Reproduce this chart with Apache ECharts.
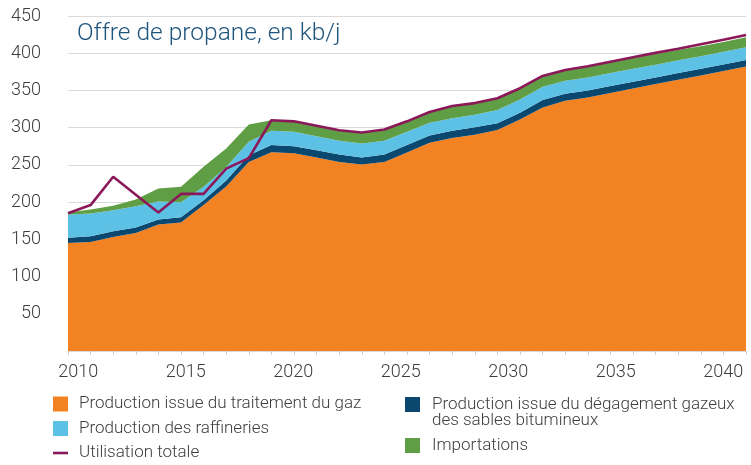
<!DOCTYPE html>
<html><head><meta charset="utf-8">
<script src="https://cdn.jsdelivr.net/npm/echarts@6/dist/echarts.min.js"></script>
<style>html,body{margin:0;padding:0;background:#fff}#c{width:751px;height:465px}</style>
</head><body><div id="c"></div>
<script>
const years = ['2010','2011','2012','2013','2014','2015','2016','2017','2018','2019','2020','2021','2022','2023','2024','2025','2026','2027','2028','2029','2030','2031','2032','2033','2034','2035','2036','2037','2038','2039','2040'];
const tickLabels = [2010, 2015, 2020, 2025, 2030, 2035, 2040];
const yTicks = [0, 50, 100, 150, 200, 250, 300, 350, 400, 450];

const gasProcessing = [145,146.5,153,158.6,170,172.5,196,221,254,267,265.5,260,254,250.6,254,266.7,279.6,286,290.5,296.7,311,327,336,340.5,346.5,352.5,358.5,364.5,370,376,382];
const oilSandsOffgas = [7,7.5,8,7.4,6.6,7,6.6,8,9,9.6,9.5,9.8,10,9.4,10,9.9,10,9.8,10,9.3,9,10,9.5,9.5,9.5,9.3,9,9,9,9,9];
const refineries = [31.4,30.7,28,28.5,24.2,20.3,17.9,18,18,19.2,19.5,18.8,18.4,18.7,18.4,18,17,17,16.7,17.8,18,18,17.5,17.5,17.3,17.2,17,17,17,17,17];
const imports = [2.5,5.3,6,9,17.5,21,27,25,23.4,14.2,14.5,13.5,14,14.5,14.6,14,14.5,15.5,15.5,15.5,15.5,14.5,14,14.5,14.5,14.5,14.5,14,13.5,13,13.5];
const totalUse = [185,196,234,210,186,211,211,245,259,310,308.5,302.5,296.5,293.5,297.5,308.5,321,329,333,339.5,353,369.5,377.5,382.5,388.5,394.5,400.5,406,412,418,424.5];

const nGas = 'Production issue du traitement du gaz';
const nRef = 'Production des raffineries';
const nTot = 'Utilisation totale';
const nSands = 'Production issue du dégagement gazeux des sables bitumineux';
const nImp = 'Importations';

const FONT = 'Roboto, "Liberation Sans", sans-serif';
const TXT = '#3d3d3d';

function area(name, data, color) {
  return {
    name, type: 'line', stack: 'supply', data, symbol: 'none',
    lineStyle: { width: 0, color }, itemStyle: { color },
    areaStyle: { color, opacity: 1 }, z: 2
  };
}

const chart = echarts.init(document.getElementById('c'), null, { renderer: 'canvas' });
chart.setOption({
  animation: false,
  backgroundColor: '#ffffff',
  title: {
    text: 'Offre de propane, en kb/j', left: 77, top: 21, padding: 0,
    textStyle: { fontFamily: FONT, fontSize: 24.5, fontWeight: 300, color: '#1e557d' }
  },
  grid: { left: 68, right: 5, top: 16, bottom: 114 },
  xAxis: [{
    type: 'category', data: years, boundaryGap: false,
    axisLine: { show: true, lineStyle: { color: '#d9d9d9', width: 1 } },
    axisTick: { show: true, interval: 0, length: 4, lineStyle: { color: '#cfcfcf' } },
    axisLabel: { show: false },
    splitLine: { show: false }
  }, {
    type: 'value', position: 'bottom', min: 2009.525, max: 2041.06,
    axisLine: { show: false }, axisTick: { show: false }, splitLine: { show: false },
    axisLabel: {
      customValues: tickLabels, margin: 12, fontFamily: FONT, fontSize: 18, fontWeight: 300, color: TXT,
      formatter: v => String(v)
    }
  }],
  yAxis: {
    type: 'value', min: 0, max: 450, interval: 50,
    axisLine: { show: false }, axisTick: { show: false },
    splitLine: { show: true, lineStyle: { color: '#dadada', width: 1 } },
    axisLabel: {
      margin: 27, fontFamily: FONT, fontSize: 18, fontWeight: 300, color: TXT,
      formatter: v => (yTicks.includes(v) && v !== 0) ? String(v) : ''
    }
  },
  legend: [{
    orient: 'vertical', left: 53, top: 395.5, padding: 0,
    itemWidth: 15, itemHeight: 15, itemGap: 7.5,
    selectedMode: false,
    itemStyle: { borderWidth: 0 },
    textStyle: { fontFamily: FONT, fontSize: 17, fontWeight: 300, color: TXT, lineHeight: 15, padding: [0, 0, 0, 6] },
    data: [
      { name: nGas, icon: 'rect' },
      { name: nRef, icon: 'rect' },
      { name: nTot, icon: 'path://M0,0M0,6.2H15V8.8H0ZM15,15', itemStyle: { color: '#8b195a', borderWidth: 0 } }
    ]
  }, {
    orient: 'vertical', left: 405, top: 396, padding: 0,
    itemWidth: 15, itemHeight: 15, itemGap: 24,
    selectedMode: false,
    itemStyle: { borderWidth: 0 },
    formatter: n => n === nSands ? 'Production issue du dégagement gazeux' : n,
    textStyle: { fontFamily: FONT, fontSize: 17, fontWeight: 300, color: TXT, lineHeight: 15, padding: [0, 0, 0, 7] },
    data: [{ name: nSands, icon: 'rect' }, { name: nImp, icon: 'rect' }]
  }],
  graphic: [{
    type: 'text', x: 432, y: 421,
    style: { text: 'des sables bitumineux', fontFamily: FONT, fontSize: 17, fontWeight: 300, fill: TXT, verticalAlign: 'middle' }
  }],
  series: [
    area(nGas, gasProcessing, '#f28222'),
    area(nSands, oilSandsOffgas, '#0b4870'),
    area(nRef, refineries, '#5dc1e6'),
    area(nImp, imports, '#5f9e44'),
    {
      name: nTot, type: 'line', data: totalUse, symbol: 'none', z: 5,
      lineStyle: { width: 2.6, color: '#8b195a' }, itemStyle: { color: '#8b195a' }
    }
  ]
});
</script>
</body></html>
